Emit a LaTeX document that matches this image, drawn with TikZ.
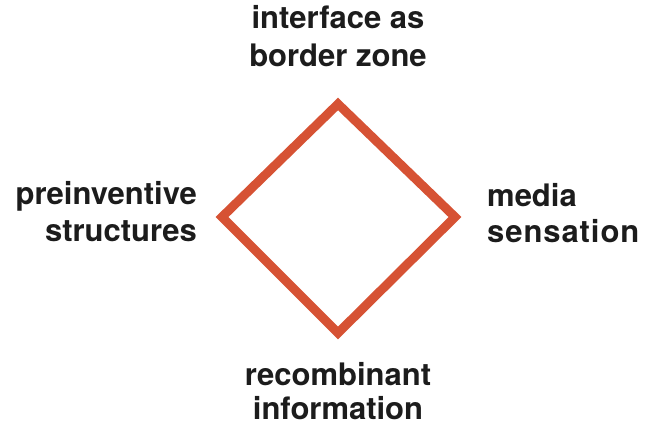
\documentclass[tikz,border=0pt]{standalone}
\usepackage{fontspec}
\setmainfont{TeX Gyre Heros}
\newfontfamily\widefont[LetterSpace=3]{TeX Gyre Heros}
\definecolor{diamondred}{RGB}{214,82,52}
\definecolor{labelink}{RGB}{28,28,28}
\begin{document}
\begin{tikzpicture}[x=1pt,y=-1pt,
  lbl/.style={inner sep=0pt,font=\fontsize{31}{37}\selectfont\bfseries,text=labelink},
  edge/.style={draw=diamondred,line width=9pt,line join=miter}]
\useasboundingbox (0,0) rectangle (646,427);
\coordinate (T) at (338,104);
\coordinate (R) at (455,217);
\coordinate (B) at (338,333);
\coordinate (L) at (222,217);
\draw[edge] (T) -- (R) -- (B) -- (L) -- cycle;
\node[lbl,anchor=base] (top1) at (338,29) {interface as};
\node[lbl,anchor=base] (top2) at (338,67) {border zone};
\node[lbl,anchor=base east] (left1) at (197,205) {preinventive};
\node[lbl,anchor=base east] (left2) at (197,242) {structures};
\node[lbl,anchor=base west] (right1) at (487,207) {media};
\node[lbl,anchor=base west] (right2) at (487,243) {\widefont\bfseries sensation};
\node[lbl,anchor=base] (bot1) at (338,386) {recombinant};
\node[lbl,anchor=base] (bot2) at (338,420) {information};
\end{tikzpicture}
\end{document}
